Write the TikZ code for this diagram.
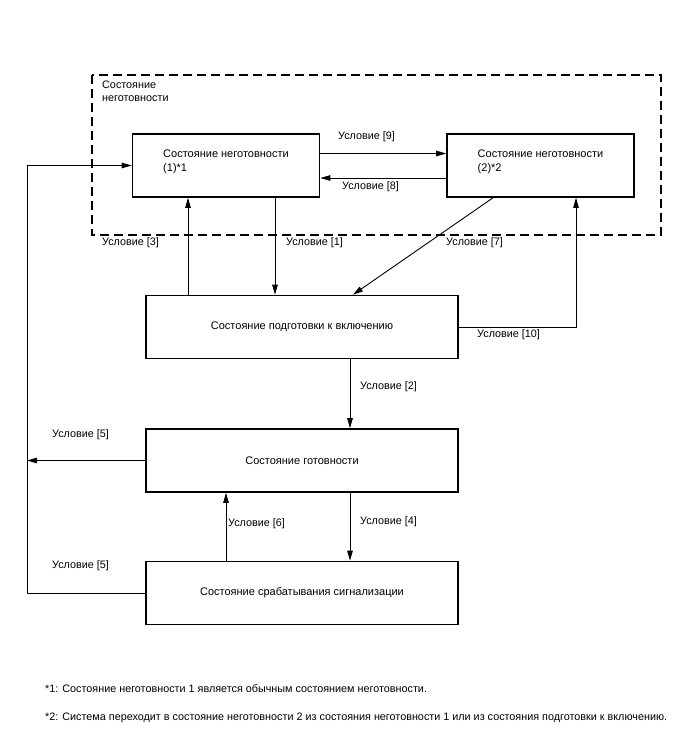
\documentclass[tikz,border=0pt]{standalone}
\usepackage{fontspec}
\setmainfont{Liberation Sans}
\usetikzlibrary{arrows.meta,positioning}
\tikzset{
  statebox/.style={draw,line width=1.6pt,minimum width=312pt,minimum height=63pt,
    inner sep=0pt,font=\fontsize{11}{14}\selectfont},
  smallbox/.style={statebox,minimum width=187pt,align=left},
  condlabel/.style={anchor=west,inner sep=0pt,font=\fontsize{10.8}{13}\selectfont},
  arrow/.style={-{Triangle[length=10pt,width=5.5pt]},line width=0.9pt},
  plainline/.style={line width=0.9pt}
}
\begin{document}
\begin{tikzpicture}[x=1pt,y=-1pt]
  \useasboundingbox (0,0) rectangle (688,755);
  % group of not-ready states
  \draw[line width=1.6pt,dash pattern=on 9pt off 5pt] (92,75) rectangle (661,235);
  \node[anchor=north west,align=left,inner sep=0pt,font=\fontsize{10.8}{13}\selectfont]
    (grouptitle) at (102,80.5) {Состояние\\неготовности};
  % states
  \node[smallbox] (notready1) at (226,165.5) {Состояние неготовности\\(1)*1\\[-8pt]\strut};
  \node[smallbox] (notready2) at (540.5,165.5) {Состояние неготовности\\(2)*2\\[-8pt]\strut};
  \node[statebox] (prep) at (302,327) {Состояние подготовки к включению};
  \node[statebox] (ready) at (302,460.5) {Состояние готовности};
  \node[statebox] (alarm) at (302,593) {Состояние срабатывания сигнализации};
  % helper coordinates
  \coordinate (c3) at (188,0);
  \coordinate (c1) at (275,0);
  \coordinate (c7a) at (493,0);
  \coordinate (c7b) at (353,0);
  \coordinate (c10) at (576,0);
  \coordinate (c2) at (350,0);
  \coordinate (c6) at (226,0);
  \coordinate (cleft) at (27,0);
  \coordinate (r9) at (0,153.5);
  \coordinate (r8) at (0,178);
  % connectors
  \draw[arrow] (notready1.east |- r9) -- (notready2.west |- r9);
  \draw[arrow] (notready2.west |- r8) -- (notready1.east |- r8);
  \draw[arrow] (prep.north -| c3) -- (notready1.south -| c3);
  \draw[arrow] (notready1.south -| c1) -- (prep.north -| c1);
  \draw[arrow] (notready2.south -| c7a) -- (prep.north -| c7b);
  \draw[arrow] (prep.east) -| (notready2.south -| c10);
  \draw[arrow] (prep.south -| c2) -- (ready.north -| c2);
  \draw[arrow] (ready.south -| c2) -- (alarm.north -| c2);
  \draw[arrow] (alarm.north -| c6) -- (ready.south -| c6);
  \draw[arrow] (ready.west) -- (ready.west -| cleft);
  \draw[arrow] (alarm.west) -| (notready1.west -| cleft) -- (notready1.west);
  % condition labels
  \node[condlabel] (l9) at (338,137) {Условие [9]};
  \node[condlabel] (l8) at (342,187) {Условие [8]};
  \node[condlabel] (l3) at (102,243) {Условие [3]};
  \node[condlabel] (l1) at (286,243) {Условие [1]};
  \node[condlabel] (l7) at (446,243) {Условие [7]};
  \node[condlabel] (l10) at (477,335) {Условие [10]};
  \node[condlabel] (l2) at (360,387) {Условие [2]};
  \node[condlabel] (l5a) at (52,435) {Условие [5]};
  \node[condlabel] (l6) at (228,524) {Условие [6]};
  \node[condlabel] (l4) at (360,522) {Условие [4]};
  \node[condlabel] (l5b) at (52,566) {Условие [5]};
  % notes
  \node[condlabel] (note1) at (45,689) {*1: Состояние неготовности 1 является обычным состоянием неготовности.};
  \node[condlabel] (note2) at (45,718) {*2: Система переходит в состояние неготовности 2 из состояния неготовности 1 или из состояния подготовки к включению.};
\end{tikzpicture}
\end{document}
